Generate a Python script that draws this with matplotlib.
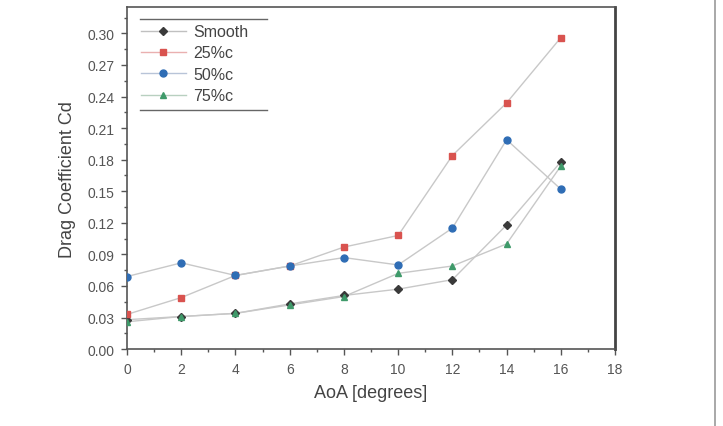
import matplotlib
matplotlib.use("Agg")
import matplotlib.pyplot as plt
from matplotlib.lines import Line2D
from matplotlib.ticker import MultipleLocator

plt.rcParams['font.family'] = ['Liberation Sans', 'DejaVu Sans']

aoa = [0, 2, 4, 6, 8, 10, 12, 14, 16]
cd_smooth = [0.028, 0.031, 0.034, 0.043, 0.051, 0.057, 0.066, 0.118, 0.178]
cd_25 = [0.033, 0.049, 0.070, 0.079, 0.097, 0.108, 0.184, 0.234, 0.296]
cd_50 = [0.069, 0.082, 0.070, 0.079, 0.087, 0.080, 0.115, 0.199, 0.152]
cd_75 = [0.026, 0.031, 0.034, 0.042, 0.050, 0.072, 0.079, 0.100, 0.174]
labels = ['Smooth', '25%c', '50%c', '75%c']

fig = plt.figure(figsize=(7.23, 4.27), dpi=100)
ax = fig.add_axes([0.1757, 0.180, 0.675, 0.801])

series = [cd_smooth, cd_25, cd_50, cd_75]
colors = ['#3a3a3a', '#d9534f', '#2f6db5', '#3f9a6a']
markers = ['D', 's', 'o', '^']
msizes = [4.2, 4.5, 5, 5]
line_cols = ['#c0c0c0', '#eab0b0', '#b8c4d8', '#b8d0c0']

handles = []
for vals, c, m, ms, lc in zip(series, colors, markers, msizes, line_cols):
    ax.plot(aoa, vals, color='#c8c8c8', lw=1.0, zorder=2)
    ax.plot(aoa, vals, ls='none', marker=m, ms=ms, color=c, mec=c, zorder=3)
    handles.append(Line2D([], [], color=lc, lw=1.0, marker=m, ms=ms, mfc=c, mec=c))

ax.set_xlim(0, 18)
ax.set_ylim(0, 0.325)
ax.xaxis.set_major_locator(MultipleLocator(2))
ax.xaxis.set_minor_locator(MultipleLocator(1))
ax.yaxis.set_major_locator(MultipleLocator(0.03))
ax.yaxis.set_minor_locator(MultipleLocator(0.015))
ax.yaxis.set_major_formatter(matplotlib.ticker.FormatStrFormatter('%.2f'))
ax.tick_params(which='major', direction='out', length=4, width=1, colors='#555555',
               labelsize=10, labelcolor='#555555', pad=5)
ax.tick_params(which='minor', direction='out', length=2, width=1, colors='#555555')
ax.tick_params(top=False, right=False)
for s in ax.spines.values():
    s.set_color('#555555')
    s.set_linewidth(1.2)
ax.spines['right'].set_linewidth(2)
ax.spines['right'].set_color('#444444')

ax.set_xlabel('AoA [degrees]', fontsize=13, color='#444444', labelpad=6)
ax.set_ylabel('Drag Coefficient Cd', fontsize=13, color='#444444', labelpad=8)

leg = ax.legend(handles, labels, loc='upper left', bbox_to_anchor=(0.02, 0.962),
                frameon=False, fontsize=11.5, handlelength=2.8, handletextpad=0.5,
                labelspacing=0.4, borderaxespad=0, borderpad=0.25)
for t in leg.get_texts():
    t.set_color('#444444')

# thin rules above and below the legend
ax.plot([0.027, 0.287], [0.965, 0.965], transform=ax.transAxes, color='#666666', lw=1, clip_on=False)
ax.plot([0.027, 0.287], [0.699, 0.699], transform=ax.transAxes, color='#666666', lw=1, clip_on=False)

# right border of the image
fig.add_artist(Line2D([715 / 723, 715 / 723], [0, 1], color='#999999', lw=1.2))

fig.savefig('out.png', dpi=100)
